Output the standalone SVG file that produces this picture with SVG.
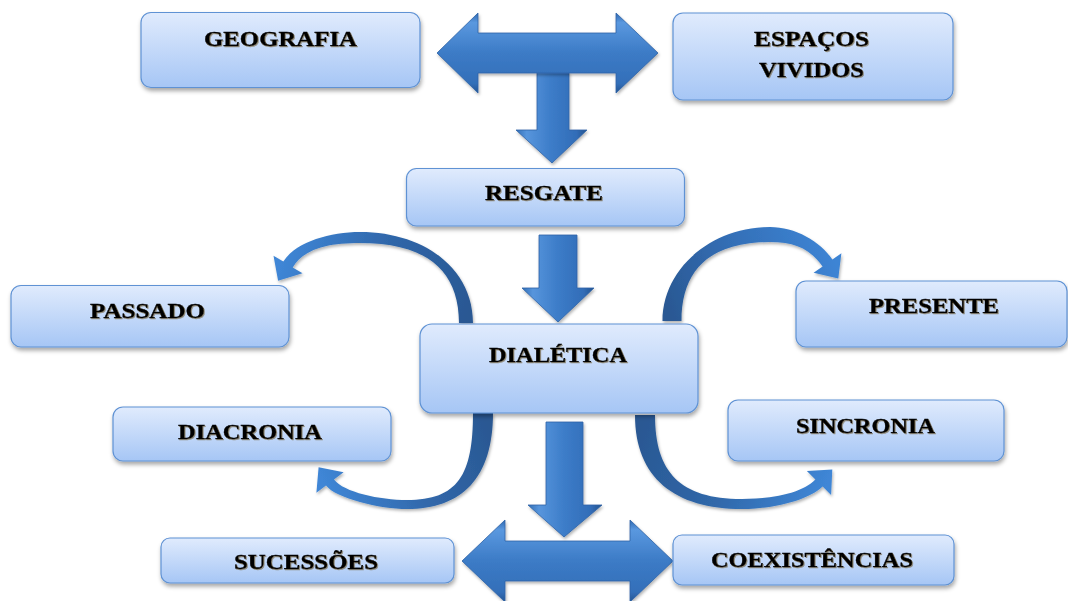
<svg xmlns="http://www.w3.org/2000/svg" width="1068" height="601" viewBox="0 0 1068 601">
  <defs>
    <linearGradient id="boxFill" x1="0" y1="0" x2="0" y2="1">
      <stop offset="0" stop-color="#e0ebfd"/>
      <stop offset="1" stop-color="#a6c6f5"/>
    </linearGradient>
    <linearGradient id="hArrow" x1="0" y1="0" x2="0" y2="1">
      <stop offset="0" stop-color="#2f68b0"/>
      <stop offset="0.12" stop-color="#5a98df"/>
      <stop offset="0.5" stop-color="#3c7bc6"/>
      <stop offset="0.88" stop-color="#336fb9"/>
      <stop offset="1" stop-color="#245491"/>
    </linearGradient>
    <linearGradient id="vArrow" x1="0" y1="0" x2="1" y2="0">
      <stop offset="0" stop-color="#336fb7"/>
      <stop offset="0.15" stop-color="#5795dc"/>
      <stop offset="0.5" stop-color="#3c7cc8"/>
      <stop offset="0.85" stop-color="#326db8"/>
      <stop offset="1" stop-color="#23528d"/>
    </linearGradient>
    <linearGradient id="curveUL" gradientUnits="userSpaceOnUse" x1="466" y1="323" x2="280" y2="262">
      <stop offset="0" stop-color="#2a5893"/>
      <stop offset="0.5" stop-color="#2f66a9"/>
      <stop offset="1" stop-color="#3f86d6"/>
    </linearGradient>
    <linearGradient id="curveUR" gradientUnits="userSpaceOnUse" x1="672" y1="321" x2="836" y2="262">
      <stop offset="0" stop-color="#2a5893"/>
      <stop offset="0.5" stop-color="#3470b8"/>
      <stop offset="1" stop-color="#3d84d4"/>
    </linearGradient>
    <linearGradient id="curveLL" gradientUnits="userSpaceOnUse" x1="483" y1="413" x2="322" y2="480">
      <stop offset="0" stop-color="#2a5893"/>
      <stop offset="0.5" stop-color="#3168ab"/>
      <stop offset="1" stop-color="#3f86d6"/>
    </linearGradient>
    <linearGradient id="curveLR" gradientUnits="userSpaceOnUse" x1="645" y1="415" x2="828" y2="480">
      <stop offset="0" stop-color="#2a5893"/>
      <stop offset="0.5" stop-color="#3068aa"/>
      <stop offset="1" stop-color="#3f86d6"/>
    </linearGradient>
    <filter id="boxShadow" x="-10%" y="-20%" width="120%" height="150%">
      <feDropShadow dx="1" dy="3" stdDeviation="2" flood-color="#000" flood-opacity="0.35"/>
    </filter>
    <filter id="arrowShadow" x="-10%" y="-10%" width="120%" height="130%">
      <feDropShadow dx="1" dy="2" stdDeviation="1.5" flood-color="#000" flood-opacity="0.3"/>
    </filter>
    <filter id="textShadow" x="-5%" y="-30%" width="110%" height="160%">
      <feDropShadow dx="1" dy="1" stdDeviation="0.5" flood-color="#6e5a34" flood-opacity="0.6"/>
    </filter>
  </defs>
  <style>
    .box { fill: url(#boxFill); stroke: #5f92d4; stroke-width: 1.2; filter: url(#boxShadow); }
    .label { font-family: "Liberation Serif", "Times New Roman", serif; font-weight: bold; font-size: 22px; fill: #000; stroke: #000; stroke-width: 0.35; text-anchor: middle; filter: url(#textShadow); }
    .harrow { fill: url(#hArrow); stroke: #2d62a6; stroke-width: 0.8; filter: url(#arrowShadow); }
    .varrow { fill: url(#vArrow); stroke: #2d62a6; stroke-width: 0.8; filter: url(#arrowShadow); }
    .curve { filter: url(#arrowShadow); }
  </style>

  <rect width="1068" height="601" fill="#ffffff"/>

  <!-- connectors -->
  <g id="connectors">
    <!-- straight block arrows -->
    <path class="varrow" d="M537,72 L569,72 L569,130 L587,130 L552,163 L516,130 L537,130 Z"/>
    <path class="harrow" d="M437,53 L478,13 L478,33 L616,33 L616,13 L658,53 L616,93 L616,73 L478,73 L478,93 Z"/>
    <path class="varrow" d="M539,235 L577,235 L577,288 L594,288 L558,322 L522,288 L539,288 Z"/>
    <path class="harrow" d="M462,561 L505,520 L505,541 L630,541 L630,520 L673,561 L630,602 L630,581 L505,581 L505,602 Z"/>
    <path class="varrow" d="M546,422 L583,422 L583,505 L602,505 L564,537 L528,505 L546,505 Z"/>

    <!-- curved arrows -->
    <path class="curve" fill="url(#curveUL)" d="M473,323 C473,268 423.6,232 360,232 C330,232 295.3,242.1 283.3,261.6 L273.5,255.7 L278.1,280.7 L302.5,273.3 L292.7,267.4 C304.7,247.9 330,243 360,243 C423.6,243 459,268 459,323 Z"/>
    <path class="curve" fill="url(#curveUR)" d="M662.5,321 C662.5,269 711,227 770,227 C795,227 820.3,241.3 832.4,259.6 L841.4,253.3 L838.3,278.6 L813.6,272.7 L822.6,266.4 C809.7,248.7 795,242 770,242 C711,242 681.5,269 681.5,321 Z"/>
    <path class="curve" fill="url(#curveLL)" d="M493,413 C493,478 462,509 407,509 C380,509 335.6,498.3 326,485.5 L316.4,492.7 L318.6,467.3 L343.6,472.3 L334,479.5 C343.6,492.3 380,500 407,500 C458,500 473,475 473,413 Z"/>
    <path class="curve" fill="url(#curveLR)" d="M635,415 C635,478 675,509 742,509 C775,509 810,499.3 822.6,486.5 L831.1,494.9 L832.3,469.5 L806.9,471.1 L815.4,479.5 C802.9,492.3 775,499 742,499 C680,499 655,472 655,415 Z"/>
  </g>

  <!-- nodes -->
  <g id="geografia">
    <rect class="box" x="141" y="12.5" width="279" height="75" rx="10"/>
    <text class="label" x="280.5" y="46" textLength="153" lengthAdjust="spacingAndGlyphs">GEOGRAFIA</text>
  </g>
  <g id="espacos-vividos">
    <rect class="box" x="673" y="13" width="280" height="87" rx="10"/>
    <text class="label" x="811.5" y="46" textLength="115" lengthAdjust="spacingAndGlyphs">ESPAÇOS</text>
    <text class="label" x="811.5" y="77" textLength="105" lengthAdjust="spacingAndGlyphs">VIVIDOS</text>
  </g>
  <g id="resgate">
    <rect class="box" x="406.5" y="168.5" width="278" height="57.5" rx="10"/>
    <text class="label" x="544" y="200" textLength="118" lengthAdjust="spacingAndGlyphs">RESGATE</text>
  </g>
  <g id="passado">
    <rect class="box" x="11" y="285.5" width="278" height="61.5" rx="10"/>
    <text class="label" x="147.5" y="318" textLength="115" lengthAdjust="spacingAndGlyphs">PASSADO</text>
  </g>
  <g id="presente">
    <rect class="box" x="796" y="281" width="271" height="66" rx="10"/>
    <text class="label" x="934" y="313" textLength="130" lengthAdjust="spacingAndGlyphs">PRESENTE</text>
  </g>
  <g id="dialetica">
    <rect class="box" x="420" y="324" width="278" height="89" rx="12"/>
    <text class="label" x="558" y="362" textLength="138" lengthAdjust="spacingAndGlyphs">DIALÉTICA</text>
  </g>
  <g id="diacronia">
    <rect class="box" x="113" y="407" width="278" height="54" rx="10"/>
    <text class="label" x="250" y="439" textLength="144" lengthAdjust="spacingAndGlyphs">DIACRONIA</text>
  </g>
  <g id="sincronia">
    <rect class="box" x="728" y="400" width="276" height="61" rx="10"/>
    <text class="label" x="865.5" y="433" textLength="139" lengthAdjust="spacingAndGlyphs">SINCRONIA</text>
  </g>
  <g id="sucessoes">
    <rect class="box" x="161" y="538" width="293" height="45" rx="9"/>
    <text class="label" x="306" y="569" textLength="144" lengthAdjust="spacingAndGlyphs">SUCESSÕES</text>
  </g>
  <g id="coexistencias">
    <rect class="box" x="673" y="535" width="281" height="50" rx="9"/>
    <text class="label" x="812" y="567" textLength="202" lengthAdjust="spacingAndGlyphs">COEXISTÊNCIAS</text>
  </g>
</svg>
